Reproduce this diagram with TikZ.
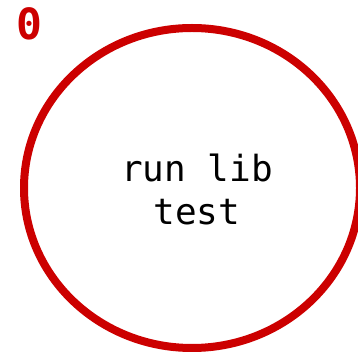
\documentclass[tikz,border=0pt]{standalone}
\usepackage{fontspec}
\setmonofont{DejaVu Sans Mono}
\definecolor{ringred}{RGB}{204,0,0}
\begin{document}
\begin{tikzpicture}[x=1pt,y=-1pt,
  ring/.style={draw=ringred,line width=8pt},
  label0/.style={text=ringred,font=\ttfamily\bfseries\fontsize{43}{43}\selectfont,inner sep=0pt},
  body/.style={font=\ttfamily\fontsize{36}{43}\selectfont,align=center,inner sep=0pt}]
  \useasboundingbox (0,0) rectangle (358,352);
  % the ring around the task label
  \draw[ring] (192,188) ellipse [x radius=168, y radius=160];
  \node[label0] (idx) at (29,24) {0};
  \node[body] (txt) at (197,189) {run lib\\test};
\end{tikzpicture}
\end{document}
